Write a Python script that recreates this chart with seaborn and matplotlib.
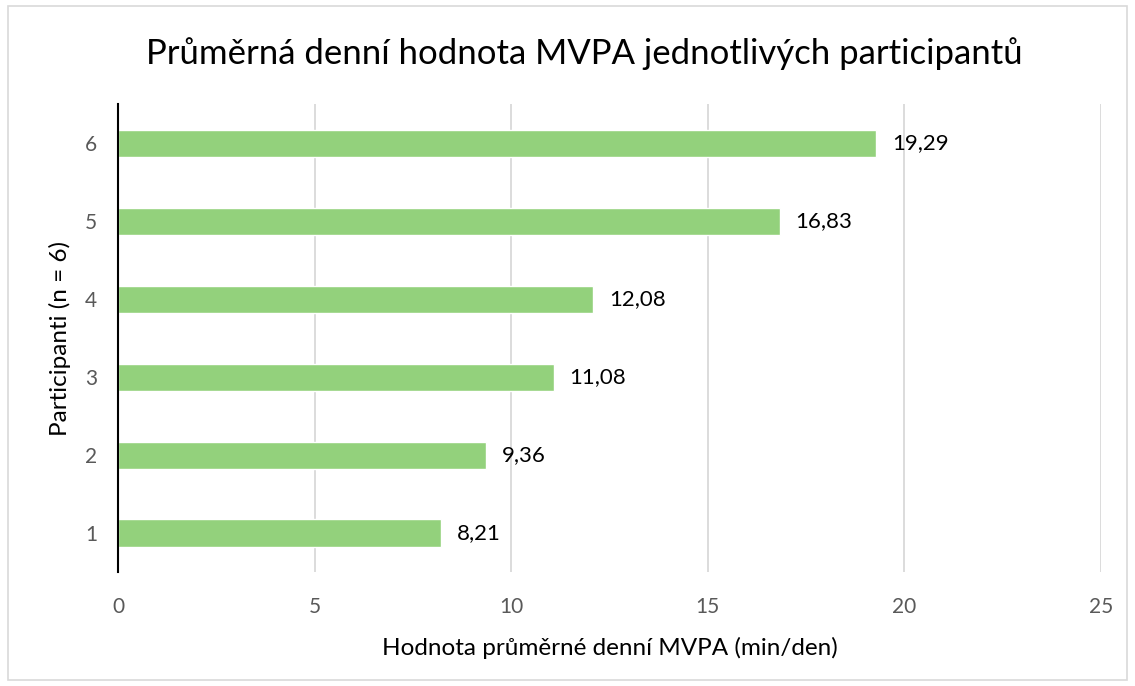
import matplotlib
matplotlib.use("Agg")
import matplotlib.pyplot as plt
import seaborn as sns
import pandas as pd
from matplotlib.patches import Rectangle

# Data
participants = ["1", "2", "3", "4", "5", "6"]
mvpa_values = [8.21, 9.36, 11.08, 12.08, 16.83, 19.29]
value_labels = ["8,21", "9,36", "11,08", "12,08", "16,83", "19,29"]

df = pd.DataFrame({"participant": participants, "mvpa": mvpa_values})

sns.set_theme(style="white")
plt.rcParams["font.family"] = ["Lato", "DejaVu Sans"]

fig = plt.figure(figsize=(11.35, 6.86), dpi=100)
ax = fig.add_axes([0.104, 0.166, 0.866, 0.682])

order = participants[::-1]
sns.barplot(data=df, x="mvpa", y="participant", order=order,
            color="#93D17C", saturation=1, width=0.35, ax=ax)

ax.set_xlim(0, 25)
ax.set_xticks([0, 5, 10, 15, 20, 25])
ax.xaxis.grid(True, color="#D9D9D9", linewidth=1.3)
ax.set_axisbelow(True)
for s in ["top", "right", "bottom"]:
    ax.spines[s].set_visible(False)
ax.spines["left"].set_color("black")
ax.spines["left"].set_linewidth(1.5)
ax.tick_params(axis="both", length=0, labelsize=15, colors="#595959")
ax.tick_params(axis="x", pad=18)
ax.tick_params(axis="y", pad=15)

for bar, lab in zip(ax.patches, [value_labels[participants.index(p)] for p in order]):
    ax.text(bar.get_width() + 0.4, bar.get_y() + bar.get_height() / 2, lab,
            va="center", ha="left", fontsize=16, color="black")

ax.set_xlabel("Hodnota průměrné denní MVPA (min/den)", fontsize=17.5, color="black", labelpad=14)
ax.set_ylabel("Participanti (n = 6)", fontsize=17.5, color="black", labelpad=10)

fig.text(0.515, 0.922, "Průměrná denní hodnota MVPA jednotlivých participantů",
         ha="center", va="center", fontsize=25, color="black")

fig.patches.append(Rectangle((0.007, 0.009), 0.986, 0.982, transform=fig.transFigure,
                             fill=False, edgecolor="#D9D9D9", linewidth=1.2))

fig.savefig("out.png", dpi=100)
